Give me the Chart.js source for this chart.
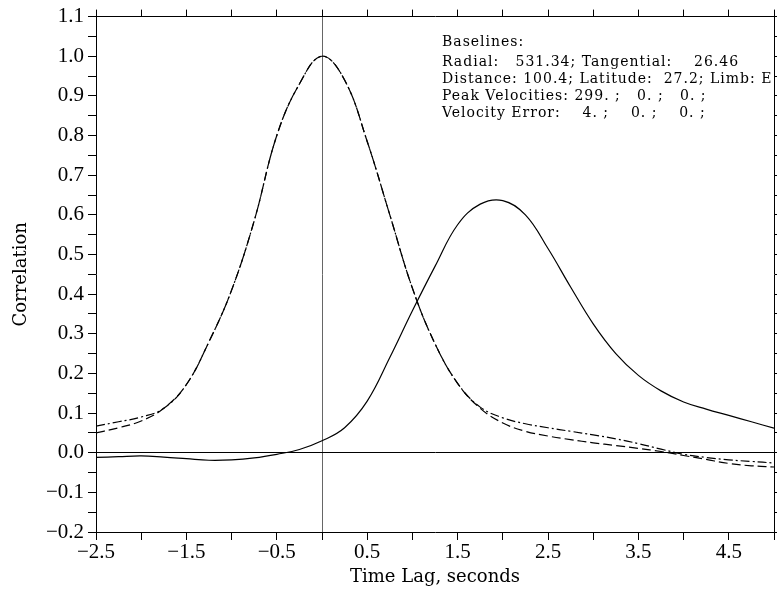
<!DOCTYPE html>
<html>
<head>
<meta charset="utf-8">
<script src="https://cdn.jsdelivr.net/npm/chart.js@4.4.1/dist/chart.umd.min.js"></script>
<style>
  html, body { margin: 0; padding: 0; background: #fff; overflow: hidden; }
  #box { width: 777px; height: 595px; }
</style>
</head>
<body>
<div id="box"><canvas id="corr"></canvas></div>
<script>
// time lag (s) sampled every 0.25
var lags = [-2.5, -2.25, -2.0, -1.75, -1.5, -1.25, -1.0, -0.75, -0.5, -0.25, 0.0,
            0.25, 0.5, 0.75, 1.0, 1.25, 1.5, 1.75, 2.0, 2.25, 2.5, 2.75, 3.0,
            3.25, 3.5, 3.75, 4.0, 4.25, 4.5, 4.75, 5.0];
// dashed curve
var corrDash = [0.050, 0.063, 0.080, 0.112, 0.172, 0.280, 0.410, 0.585, 0.800, 0.930, 1.000,
                0.940, 0.785, 0.600, 0.415, 0.275, 0.175, 0.112, 0.075, 0.054, 0.042, 0.033, 0.025,
                0.018, 0.011, 0.003, -0.007, -0.017, -0.027, -0.033, -0.036];
// dash-dot curve
var corrDashDot = [0.067, 0.078, 0.090, 0.112, 0.172, 0.280, 0.410, 0.585, 0.800, 0.930, 1.000,
                   0.940, 0.785, 0.600, 0.415, 0.275, 0.175, 0.115, 0.088, 0.073, 0.063, 0.054, 0.045,
                   0.035, 0.023, 0.009, -0.004, -0.012, -0.018, -0.022, -0.026];
// solid curve
var corrSolid = [-0.012, -0.010, -0.008, -0.011, -0.015, -0.019, -0.018, -0.013, -0.004, 0.008, 0.030,
                 0.063, 0.130, 0.240, 0.358, 0.470, 0.575, 0.627, 0.636, 0.600, 0.515, 0.418, 0.325,
                 0.250, 0.195, 0.156, 0.128, 0.110, 0.094, 0.078, 0.062];

var infoLines = [
  'Baselines:',
  'Radial:   531.34; Tangential:    26.46',
  'Distance: 100.4; Latitude:  27.2; Limb: E',
  'Peak Velocities: 299. ;   0. ;   0. ;',
  'Velocity Error:    4. ;    0. ;    0. ;'
];

function pts(ys) {
  return lags.map(function (x, i) { return { x: x, y: ys[i] }; });
}

var tickFont = { family: 'Liberation Serif', size: 21 };
var titleFont = { family: 'DejaVu Serif', size: 18 };

var infoText = {
  id: 'infoText',
  afterDraw: function (chart) {
    var c = chart.ctx;
    var ys = [42, 62, 79, 96, 113];
    c.save();
    c.font = '14px "DejaVu Serif"';
    c.letterSpacing = '1px';
    c.fillStyle = '#000';
    c.textBaseline = 'middle';
    infoLines.forEach(function (t, i) { c.fillText(t, 442, ys[i]); });
    c.restore();
  }
};

function zeroLine(col) {
  return function (ctx) {
    return (ctx.tick && Math.abs(ctx.tick.value) < 1e-9) ? col : 'rgba(0,0,0,0)';
  };
}

new Chart(document.getElementById('corr'), {
  type: 'line',
  data: {
    datasets: [
      { data: pts(corrSolid), borderColor: '#000', borderWidth: 1.2, pointRadius: 0 },
      { data: pts(corrDash), borderColor: '#000', borderWidth: 1.2, pointRadius: 0, borderDash: [9, 4] },
      { data: pts(corrDashDot), borderColor: '#000', borderWidth: 1.2, pointRadius: 0, borderDash: [9, 3, 2, 3] }
    ]
  },
  options: {
    responsive: true,
    maintainAspectRatio: false,
    animation: false,
    tension: 0.4,
    layout: { padding: 0 },
    plugins: { legend: { display: false }, tooltip: { enabled: false } },
    scales: {
      x: {
        type: 'linear', position: 'bottom', min: -2.5, max: 5,
        afterFit: function (s) { s.height = 63; },
        border: { color: '#000', width: 1 },
        grid: { color: zeroLine('#666'), tickColor: '#000', tickLength: 8 },
        ticks: {
          stepSize: 0.5, autoSkip: false, maxRotation: 0, padding: 0, color: '#000', font: tickFont,
          callback: function (v) {
            var k = Math.round((v + 2.5) * 2);
            if (k % 2 !== 0 || v > 4.9) return '';
            return (v < 0 ? '\u2212' : '') + Math.abs(v).toFixed(1);
          }
        },
        title: { display: true, text: 'Time Lag, seconds', color: '#000', font: titleFont, padding: { top: 0, bottom: 7 } }
      },
      x2: {
        type: 'linear', position: 'top', min: -2.5, max: 5,
        afterFit: function (s) { s.height = 16; },
        border: { color: '#000', width: 1 },
        grid: { color: 'rgba(0,0,0,0)', tickColor: '#000', tickLength: 7 },
        ticks: { stepSize: 0.5, autoSkip: false, display: false }
      },
      y: {
        type: 'linear', position: 'left', min: -0.2, max: 1.1,
        afterFit: function (s) { s.width = 96; },
        border: { color: '#000', width: 1 },
        grid: { color: zeroLine('#000'), tickColor: '#000', tickLength: 8 },
        ticks: {
          stepSize: 0.05, autoSkip: false, padding: 4, color: '#000', font: tickFont,
          callback: function (v) {
            var k = Math.round(v * 100);
            if (k % 10 !== 0) return '';
            return (k < 0 ? '\u2212' : '') + Math.abs(v).toFixed(1);
          }
        },
        title: { display: true, text: 'Correlation', color: '#000', font: titleFont, padding: { top: 11, bottom: 0 } }
      },
      y2: {
        type: 'linear', position: 'right', min: -0.2, max: 1.1,
        afterFit: function (s) { s.width = 3; },
        border: { color: '#000', width: 1 },
        grid: { color: 'rgba(0,0,0,0)', tickColor: '#000', tickLength: 8 },
        ticks: { stepSize: 0.05, autoSkip: false, display: false }
      }
    }
  },
  plugins: [infoText]
});
</script>
</body>
</html>
